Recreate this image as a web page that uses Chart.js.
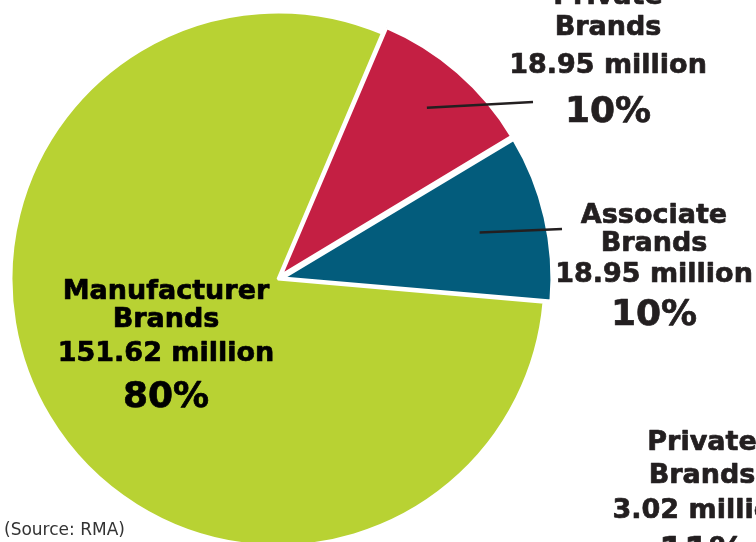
<!DOCTYPE html>
<html>
<head>
<meta charset="utf-8">
<script src="https://cdn.jsdelivr.net/npm/chart.js@4.4.1/dist/chart.umd.min.js"></script>
<style>
  html, body { margin: 0; padding: 0; background: #ffffff; overflow: hidden; }
  #wrap { position: relative; width: 756px; height: 542px; }
</style>
</head>
<body>
<div id="wrap"><canvas id="pie"></canvas></div>
<script>
// Brand segments (millions of units)
const categories = ['Private Brands', 'Associate Brands', 'Manufacturer Brands'];
const nameLines = [['Private', 'Brands'], ['Associate', 'Brands'], ['Manufacturer', 'Brands']];
const valuesMillions = [18.95, 18.95, 151.62];
const sliceColors = ['#C41F43', '#035C7C', '#B8D233'];

// Partial label of the neighbouring panel
const neighbourLines = ['Private', 'Brands', '3.02 million', '11%'];
const sourceNote = '(Source: RMA)';

// Label placement: centre x and baselines for each line, plus leader lines
const labelLayout = [
  { x: 608, ys: [4, 35, 73, 122], color: '#231F20', leader: { frac: 0.85, to: [533, 102] } },
  { x: 654, ys: [223, 251, 282, 325], color: '#231F20', leader: { frac: 0.775, to: [562, 229] } },
  { x: 166, ys: [299, 327, 361, 407], color: '#000000', leader: null }
];

const total = valuesMillions.reduce((a, b) => a + b, 0);
const pct = v => Math.round(v / total * 100) + '%';

// heavy text: fill plus a thin stroke of the same colour
function heavyText(ctx, t, x, y, size, color) {
  ctx.font = 'bold ' + size + 'px "DejaVu Sans", sans-serif';
  ctx.fillStyle = color;
  ctx.strokeStyle = color;
  ctx.lineWidth = 0.7;
  ctx.lineJoin = 'round';
  ctx.fillText(t, x, y);
  ctx.strokeText(t, x, y);
}

const labelPlugin = {
  id: 'sliceLabels',
  afterDatasetsDraw(chart) {
    const ctx = chart.ctx;
    const arcs = chart.getDatasetMeta(0).data;
    ctx.save();
    // leader lines from inside the slices
    arcs.forEach((arc, i) => {
      const lay = labelLayout[i];
      if (!lay.leader) return;
      const p = arc.getProps(['x', 'y', 'startAngle', 'endAngle', 'outerRadius'], true);
      const mid = (p.startAngle + p.endAngle) / 2;
      const r = p.outerRadius * lay.leader.frac;
      ctx.beginPath();
      ctx.moveTo(p.x + Math.cos(mid) * r, p.y + Math.sin(mid) * r);
      ctx.lineTo(lay.leader.to[0], lay.leader.to[1]);
      ctx.strokeStyle = '#231F20';
      ctx.lineWidth = 2.4;
      ctx.stroke();
    });
    // text blocks
    ctx.textAlign = 'center';
    ctx.textBaseline = 'alphabetic';
    valuesMillions.forEach((v, i) => {
      const lay = labelLayout[i];
      const lines = [nameLines[i][0], nameLines[i][1], v.toFixed(2) + ' million', pct(v)];
      lines.forEach((t, k) => {
        heavyText(ctx, t, lay.x, lay.ys[k], k === 3 ? 36 : 27, lay.color);
      });
    });
    // neighbouring panel text, clipped by the page edge
    const nbYs = [450, 483, 518, 562];
    neighbourLines.forEach((t, k) => {
      heavyText(ctx, t, 702, nbYs[k], k === 3 ? 36 : 27, '#231F20');
    });
    // source note
    ctx.textAlign = 'left';
    ctx.font = '17px "DejaVu Sans", sans-serif';
    ctx.fillStyle = '#333333';
    ctx.fillText(sourceNote, 4, 535);
    ctx.restore();
  }
};

new Chart(document.getElementById('pie'), {
  type: 'pie',
  data: {
    labels: categories,
    datasets: [{
      data: valuesMillions,
      backgroundColor: sliceColors,
      borderColor: '#ffffff',
      borderWidth: 3,
      offset: [20, 20, 0],
      radius: 267
    }]
  },
  options: {
    responsive: true,
    maintainAspectRatio: false,
    animation: false,
    rotation: 23,
    layout: { padding: { left: 0, right: 200, top: 16, bottom: 0 } },
    plugins: {
      legend: { display: false },
      tooltip: { enabled: false }
    },
    events: []
  },
  plugins: [labelPlugin]
});
</script>
</body>
</html>
